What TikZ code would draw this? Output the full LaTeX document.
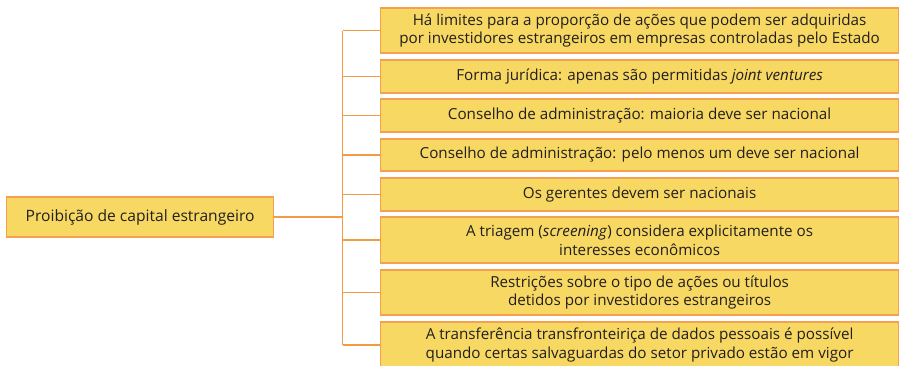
\documentclass[tikz,border=0pt]{standalone}
\usepackage{fontspec}
\setmainfont{Open Sans}
\definecolor{boxfill}{HTML}{F7D862}
\definecolor{boxline}{HTML}{F4A050}
\definecolor{linkcol}{HTML}{F39A45}
\definecolor{txt}{HTML}{231F20}
\begin{document}
\begin{tikzpicture}[x=1pt,y=-1pt,
  leaf/.style={draw=boxline,fill=boxfill,line width=1.2pt,text=txt,
    minimum width=518pt,inner sep=0pt,align=center,anchor=west,
    font=\fontsize{15.2}{18.8}\selectfont},
  rootbox/.style={draw=boxline,fill=boxfill,line width=1.2pt,text=txt,
    minimum width=267pt,minimum height=40pt,inner sep=0pt,anchor=west,
    font=\fontsize{15.6}{18.8}\selectfont},
  link/.style={draw=linkcol,line width=1.5pt}]
\useasboundingbox (0,0) rectangle (902,365);
\node[rootbox] (root) at (6,217) {Proibição de capital estrangeiro};
\node[leaf,minimum height=45pt] (b1) at (380,30.5) {Há limites para a proporção de ações que podem ser adquiridas\\por investidores estrangeiros em empresas controladas pelo Estado};
\node[leaf,minimum height=33pt] (b2) at (380,76.5) {Forma jurídica: apenas são permitidas \textit{joint ventures}};
\node[leaf,minimum height=33pt] (b3) at (380,115.5) {Conselho de administração: maioria deve ser nacional};
\node[leaf,minimum height=32pt] (b4) at (380,155) {Conselho de administração: pelo menos um deve ser nacional};
\node[leaf,minimum height=33pt] (b5) at (380,194.5) {Os gerentes devem ser nacionais};
\node[leaf,minimum height=46pt] (b6) at (380,240) {A triagem (\textit{screening}) considera explicitamente os\\interesses econômicos};
\node[leaf,minimum height=45pt] (b7) at (380,292.5) {Restrições sobre o tipo de ações ou títulos\\detidos por investidores estrangeiros};
\node[leaf,minimum height=46pt] (b8) at (380,345) {A transferência transfronteiriça de dados pessoais é possível\\quando certas salvaguardas do setor privado estão em vigor};
\coordinate (trunk) at (342.7,217);
\draw[link] (root.east) -- (root.east -| trunk);
\draw[link] (trunk |- b1.west) -- (trunk |- b8.west);
\foreach \b in {b1,b2,b3,b4,b5,b6,b7,b8}
  \draw[link] (trunk |- \b.west) -- (\b.west);
\end{tikzpicture}
\end{document}
